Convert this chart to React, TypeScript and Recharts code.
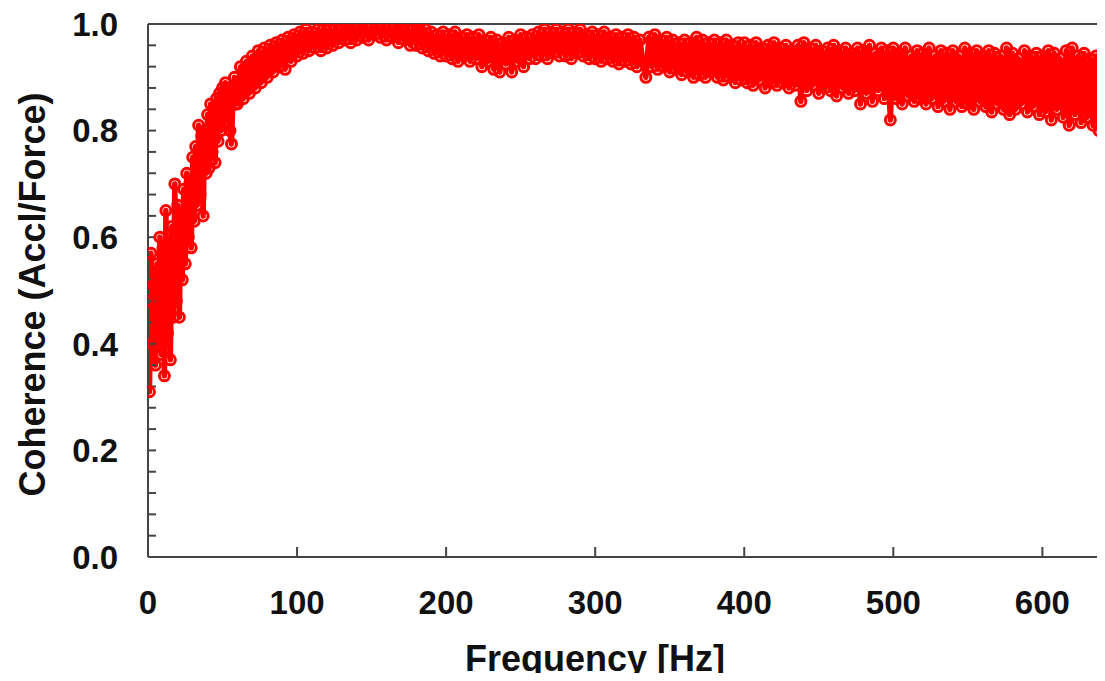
import React from 'react';
import { LineChart, Line, XAxis, YAxis, ReferenceLine } from 'recharts';

const frequencyHz = [
  0, 1, 2, 3, 4, 5, 6, 7, 8, 9,
  10, 11, 12, 13, 14, 15, 16, 17, 18, 19,
  20, 21, 22, 23, 24, 25, 26, 27, 28, 29,
  30, 31, 32, 33, 34, 35, 36, 37, 38, 39,
  40, 41, 42, 43, 44, 45, 46, 47, 48, 49,
  50, 51, 52, 53, 54, 55, 56, 57, 58, 59,
  60, 62, 64, 66, 68, 70, 72, 74, 76, 78,
  80, 82, 84, 86, 88, 90, 92, 94, 96, 98,
  100, 102, 104, 106, 108, 110, 112, 114, 116, 118,
  120, 122, 124, 126, 128, 130, 132, 134, 136, 138,
  140, 142, 144, 146, 148, 150, 152, 154, 156, 158,
  160, 162, 164, 166, 168, 170, 172, 174, 176, 178,
  180, 182, 184, 186, 188, 190, 192, 194, 196, 198,
  200, 202, 204, 206, 208, 210, 212, 214, 216, 218,
  220, 222, 224, 226, 228, 230, 232, 234, 236, 238,
  240, 242, 244, 246, 248, 250, 252, 254, 256, 258,
  260, 262, 264, 266, 268, 270, 272, 274, 276, 278,
  280, 282, 284, 286, 288, 290, 292, 294, 296, 298,
  300, 302, 304, 306, 308, 310, 312, 314, 316, 318,
  320, 322, 324, 326, 328, 330, 332, 334, 336, 338,
  340, 342, 344, 346, 348, 350, 352, 354, 356, 358,
  360, 362, 364, 366, 368, 370, 372, 374, 376, 378,
  380, 382, 384, 386, 388, 390, 392, 394, 396, 398,
  400, 402, 404, 406, 408, 410, 412, 414, 416, 418,
  420, 422, 424, 426, 428, 430, 432, 434, 436, 438,
  440, 442, 444, 446, 448, 450, 452, 454, 456, 458,
  460, 462, 464, 466, 468, 470, 472, 474, 476, 478,
  480, 482, 484, 486, 488, 490, 492, 494, 496, 498,
  500, 502, 504, 506, 508, 510, 512, 514, 516, 518,
  520, 522, 524, 526, 528, 530, 532, 534, 536, 538,
  540, 542, 544, 546, 548, 550, 552, 554, 556, 558,
  560, 562, 564, 566, 568, 570, 572, 574, 576, 578,
  580, 582, 584, 586, 588, 590, 592, 594, 596, 598,
  600, 602, 604, 606, 608, 610, 612, 614, 616, 618,
  620, 622, 624, 626, 628, 630, 632, 634, 636, 638,
  640,
];

const coherence = [
  0.48, 0.31, 0.57, 0.40, 0.51, 0.36, 0.55, 0.44, 0.60, 0.38,
  0.58, 0.34, 0.65, 0.42, 0.56, 0.37, 0.62, 0.45, 0.70, 0.48,
  0.66, 0.45, 0.63, 0.52, 0.69, 0.55, 0.72, 0.60, 0.70, 0.58,
  0.75, 0.63, 0.77, 0.66, 0.81, 0.68, 0.79, 0.64, 0.80, 0.72,
  0.83, 0.73, 0.85, 0.76, 0.84, 0.74, 0.86, 0.78, 0.87, 0.80,
  0.88, 0.81, 0.89, 0.83, 0.88, 0.80, 0.775, 0.86, 0.90, 0.85,
  0.85, 0.92, 0.86, 0.93, 0.87, 0.94, 0.88, 0.95, 0.89, 0.955,
  0.90, 0.96, 0.91, 0.965, 0.92, 0.97, 0.915, 0.975, 0.93, 0.98,
  0.94, 0.985, 0.945, 0.99, 0.95, 0.985, 0.955, 0.99, 0.95, 0.995,
  0.955, 0.99, 0.96, 0.995, 0.965, 0.99, 0.97, 1.0, 0.965, 0.995,
  0.97, 1.0, 0.975, 0.995, 0.97, 1.0, 0.98, 0.995, 0.975, 1.0,
  0.97, 0.995, 0.975, 1.0, 0.965, 0.99, 0.97, 0.995, 0.96, 0.99,
  0.96, 1.0, 0.955, 0.99, 0.95, 0.985, 0.945, 0.98, 0.94, 0.985,
  0.94, 0.98, 0.935, 0.985, 0.93, 0.975, 0.94, 0.98, 0.93, 0.975,
  0.935, 0.98, 0.92, 0.97, 0.93, 0.975, 0.915, 0.97, 0.91, 0.965,
  0.925, 0.975, 0.91, 0.97, 0.93, 0.98, 0.92, 0.975, 0.935, 0.98,
  0.935, 0.985, 0.94, 0.99, 0.935, 0.985, 0.945, 0.99, 0.94, 0.985,
  0.94, 0.99, 0.935, 0.985, 0.945, 0.99, 0.94, 0.98, 0.935, 0.985,
  0.935, 0.98, 0.93, 0.985, 0.935, 0.975, 0.93, 0.98, 0.925, 0.975,
  0.93, 0.98, 0.925, 0.975, 0.92, 0.97, 0.93, 0.90, 0.975, 0.92,
  0.98, 0.915, 0.97, 0.92, 0.975, 0.91, 0.97, 0.915, 0.965, 0.905,
  0.97, 0.91, 0.965, 0.90, 0.975, 0.905, 0.97, 0.90, 0.965, 0.91,
  0.97, 0.90, 0.965, 0.895, 0.97, 0.90, 0.96, 0.89, 0.965, 0.895,
  0.965, 0.89, 0.96, 0.885, 0.965, 0.895, 0.955, 0.88, 0.96, 0.89,
  0.965, 0.885, 0.955, 0.89, 0.96, 0.88, 0.95, 0.885, 0.96, 0.855,
  0.965, 0.875, 0.955, 0.885, 0.96, 0.87, 0.95, 0.88, 0.955, 0.875,
  0.96, 0.865, 0.95, 0.88, 0.955, 0.87, 0.945, 0.875, 0.955, 0.85,
  0.95, 0.87, 0.96, 0.855, 0.945, 0.875, 0.955, 0.86, 0.95, 0.82,
  0.955, 0.86, 0.945, 0.85, 0.955, 0.865, 0.94, 0.855, 0.95, 0.86,
  0.945, 0.85, 0.955, 0.86, 0.94, 0.845, 0.95, 0.855, 0.945, 0.84,
  0.95, 0.855, 0.94, 0.845, 0.955, 0.85, 0.945, 0.84, 0.95, 0.855,
  0.94, 0.845, 0.95, 0.835, 0.945, 0.85, 0.94, 0.84, 0.955, 0.83,
  0.945, 0.84, 0.935, 0.85, 0.95, 0.835, 0.94, 0.845, 0.945, 0.83,
  0.94, 0.835, 0.95, 0.82, 0.945, 0.84, 0.935, 0.825, 0.95, 0.81,
  0.955, 0.83, 0.94, 0.815, 0.945, 0.825, 0.935, 0.81, 0.94, 0.80,
  0.90,
];

const xTicks = [0, 100, 200, 300, 400, 500, 600];
const yTicks = [
  0, 0.04, 0.08, 0.12, 0.16, 0.2, 0.24, 0.28, 0.32, 0.36, 0.4, 0.44, 0.48,
  0.52, 0.56, 0.6, 0.64, 0.68, 0.72, 0.76, 0.8, 0.84, 0.88, 0.92, 0.96, 1.0,
];

const data = frequencyHz.map((f, i) => ({ f, c: coherence[i] }));

const FONT = '"Liberation Sans", Arial, Helvetica, sans-serif';
const AXIS_COLOR = '#444';

const tickStyle = { fontSize: 33, fontWeight: 700, fill: '#111', fontFamily: FONT };
const titleStyle = { fontSize: 36, fontWeight: 700, fill: '#111', fontFamily: FONT };

export default function App() {
  return (
    <div style={{ fontFamily: FONT, marginTop: -8, height: 673 }}>
      <LineChart
        width={1097}
        height={681}
        data={data}
        margin={{ top: 24, right: 3, left: 0, bottom: 0 }}
      >
        <XAxis
          dataKey="f"
          type="number"
          domain={[0, 640]}
          ticks={xTicks}
          interval={0}
          allowDataOverflow
          height={124}
          tickSize={-10}
          tickMargin={44}
          tick={tickStyle}
          axisLine={{ stroke: AXIS_COLOR, strokeWidth: 2 }}
          tickLine={{ stroke: AXIS_COLOR, strokeWidth: 2 }}
          label={{
            value: 'Frequency [Hz]',
            position: 'center',
            dx: -30,
            dy: 39,
            style: titleStyle,
          }}
        />
        <YAxis
          type="number"
          domain={[0, 1]}
          ticks={yTicks}
          interval={0}
          allowDataOverflow
          width={140}
          tickSize={-8}
          tickMargin={38}
          tick={tickStyle}
          tickFormatter={(v: number) =>
            Math.abs(v * 5 - Math.round(v * 5)) < 1e-6 ? v.toFixed(1) : ''
          }
          axisLine={{ stroke: AXIS_COLOR, strokeWidth: 2 }}
          tickLine={{ stroke: AXIS_COLOR, strokeWidth: 2 }}
          label={{
            value: 'Coherence (Accl/Force)',
            angle: -90,
            position: 'center',
            dx: -46,
            dy: 4,
            style: { ...titleStyle, textAnchor: 'middle' },
          }}
        />
        <ReferenceLine y={1} stroke={AXIS_COLOR} strokeWidth={2} />
        <ReferenceLine x={640} stroke={AXIS_COLOR} strokeWidth={2} />
        <Line
          type="linear"
          dataKey="c"
          stroke="#ff0000"
          strokeWidth={5.5}
          strokeLinejoin="round"
          dot={{ r: 5, stroke: '#ff0000', strokeWidth: 3, fill: 'none' }}
          isAnimationActive={false}
        />
      </LineChart>
    </div>
  );
}
